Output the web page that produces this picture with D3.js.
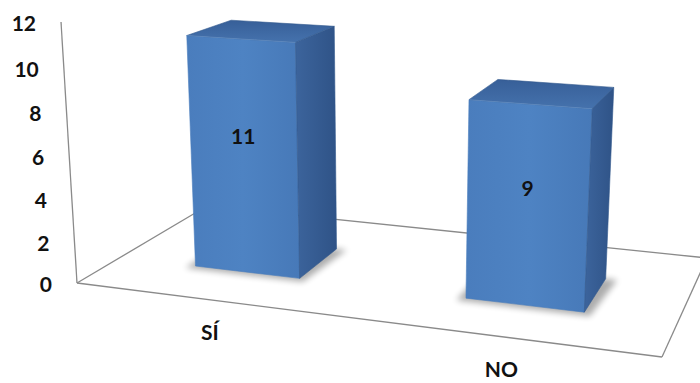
<!DOCTYPE html>
<html>
<head>
<meta charset="utf-8">
<script src="https://cdn.jsdelivr.net/npm/d3@7"></script>
<style>
  html, body { margin: 0; padding: 0; background: #ffffff; }
  svg { display: block; }
  text { font-family: Lato, "Open Sans", "Liberation Sans", sans-serif; font-weight: 700; fill: #111; }
</style>
</head>
<body>
<svg id="chart" width="700" height="383"></svg>
<script>
// ---- data ----
const categories = ["SÍ", "NO"];
const values = [11, 9];
const yTicks = [0, 2, 4, 6, 8, 10, 12];
const yMax = 12;

// ---- frame geometry (screen positions of the floor corners and the value-axis top) ----
const floorFL = [77, 283], floorFR = [662, 357], floorBR = [707, 258], floorBL = [207, 206];
const axisTop = [61, 22];
const verticalVanish = [389, 5377];   // vertical edges converge far below the chart

// Projective map from the unit square (u across, w into depth) to the floor quad
function squareToQuad(p0, p1, p2, p3) {
  const [x0, y0] = p0, [x1, y1] = p1, [x2, y2] = p2, [x3, y3] = p3;
  const dx1 = x1 - x2, dx2 = x3 - x2, dx3 = x0 - x1 + x2 - x3;
  const dy1 = y1 - y2, dy2 = y3 - y2, dy3 = y0 - y1 + y2 - y3;
  const den = dx1 * dy2 - dx2 * dy1;
  const g = (dx3 * dy2 - dx2 * dy3) / den;
  const h = (dx1 * dy3 - dx3 * dy1) / den;
  return {
    a: x1 - x0 + g * x1, b: x3 - x0 + h * x3, c: x0,
    d: y1 - y0 + g * y1, e: y3 - y0 + h * y3, f: y0,
    g, h
  };
}
const H = squareToQuad(floorFL, floorFR, floorBR, floorBL);
// height column: scaled so that a normalised height of 1 lands on the axis top
const k = (axisTop[1] - H.f) / (verticalVanish[1] - axisTop[1]);
const kx = k * verticalVanish[0], ky = k * verticalVanish[1], kz = k;

function project(u, v, w) {
  const X = H.a * u + H.b * w + H.c + v * kx;
  const Y = H.d * u + H.e * w + H.f + v * ky;
  const Z = H.g * u + H.h * w + 1 + v * kz;
  return [X / Z, Y / Z];
}

// ---- scales (world units) ----
const x = d3.scaleBand().domain(categories).range([0, 1]).paddingInner(0.6).paddingOuter(0.3);
const y = d3.scaleLinear().domain([0, yMax]).range([0, 1]);
const depthFront = 0.30, depthBack = 0.65;

const svg = d3.select("#chart");
const defs = svg.append("defs");

defs.append("filter").attr("id", "soft").attr("x", "-30%").attr("y", "-30%").attr("width", "160%").attr("height", "160%")
  .append("feGaussianBlur").attr("stdDeviation", 3.2);

function grad(id, x1, y1, x2, y2, stops) {
  const lg = defs.append("linearGradient").attr("id", id)
    .attr("x1", x1).attr("y1", y1).attr("x2", x2).attr("y2", y2);
  stops.forEach(([o, c]) => lg.append("stop").attr("offset", o).attr("stop-color", c));
}
grad("gFront", 0, 0, 1, 0, [[0, "#4a7dbd"], [0.5, "#4e83c3"], [1, "#4779b8"]]);
grad("gSide", 0, 0, 1, 0, [[0, "#3c649c"], [1, "#2f5387"]]);
grad("gTop", 0, 1, 0, 0, [[0, "#4572ad"], [1, "#375f98"]]);

const line = d3.line();
const floorLines = svg.append("g")
  .attr("fill", "none").attr("stroke", "#8a8a8a").attr("stroke-width", 1.3);

// floor outline
[[[0, 0], [1, 0]], [[1, 0], [1, 1]], [[1, 1], [0, 1]], [[0, 1], [0, 0]]].forEach(([s, t]) => {
  floorLines.append("path").attr("d", line([project(s[0], 0, s[1]), project(t[0], 0, t[1])]));
});
// value axis line at the front-left corner
floorLines.append("path").attr("d", line([project(0, 0, 0), project(0, 1, 0)]));

// tick labels
svg.append("g").selectAll("text").data(yTicks).join("text")
  .attr("x", d => project(0, y(d), 0)[0] - 25)
  .attr("y", d => project(0, y(d), 0)[1] + 2)
  .attr("dy", "0.35em")
  .attr("text-anchor", "end")
  .attr("font-size", 21)
  .text(d => d);

// category labels in front of the floor
svg.append("g").selectAll("text").data(categories).join("text")
  .attr("x", d => project(x(d) + x.bandwidth() / 2, 0, 0)[0] + 1)
  .attr("y", d => project(x(d) + x.bandwidth() / 2, 0, 0)[1] + 40)
  .attr("text-anchor", "middle")
  .attr("font-size", 21)
  .text(d => d);

// ---- bars ----
const polygon = pts => "M" + pts.map(p => p.join(",")).join("L") + "Z";
const signedArea = pts => d3.polygonArea(pts);

const bars = svg.append("g");
categories.forEach((cat, i) => {
  const u0 = x(cat), u1 = u0 + x.bandwidth();
  const w0 = depthFront, w1 = depthBack;
  const v1 = y(values[i]);
  const g = bars.append("g");

  // soft shadow on the floor
  g.append("path")
    .attr("d", polygon([project(u0 - 0.012, 0, w0 - 0.03), project(u1 + 0.012, 0, w0 - 0.03),
                        project(u1 + 0.02, 0, w1), project(u0 - 0.012, 0, w1)]))
    .attr("fill", "#000").attr("opacity", 0.32).attr("filter", "url(#soft)");

  // faces wound consistently as seen from outside
  const faces = [
    { pts: [[u0, 0, w0], [u1, 0, w0], [u1, v1, w0], [u0, v1, w0]], fill: "url(#gFront)" }, // front
    { pts: [[u1, 0, w1], [u0, 0, w1], [u0, v1, w1], [u1, v1, w1]], fill: "#3a6299" },       // back
    { pts: [[u1, 0, w0], [u1, 0, w1], [u1, v1, w1], [u1, v1, w0]], fill: "url(#gSide)" },  // right
    { pts: [[u0, 0, w1], [u0, 0, w0], [u0, v1, w0], [u0, v1, w1]], fill: "#3a6299" },       // left
    { pts: [[u0, v1, w0], [u1, v1, w0], [u1, v1, w1], [u0, v1, w1]], fill: "url(#gTop)" },  // top
  ].map(f => ({ ...f, scr: f.pts.map(p => project(...p)) }));
  const ref = Math.sign(signedArea(faces[0].scr));
  faces.filter(f => Math.sign(signedArea(f.scr)) === ref).forEach(f => {
    g.append("path").attr("d", polygon(f.scr)).attr("fill", f.fill)
      .attr("stroke", f.fill === "url(#gFront)" ? "#4a7dbd" : "#33598d").attr("stroke-width", 0.6)
      .attr("stroke-linejoin", "round");
  });
  // light bevel along the top front edge
  g.append("path").attr("d", line([project(u0, v1, w0), project(u1, v1, w0)]))
    .attr("stroke", "#6f9bd0").attr("stroke-width", 1).attr("opacity", 0.6);

  // value label on the front face
  const lp = project((u0 + u1) / 2, y(values[i] * 0.59), w0);
  g.append("text").attr("x", lp[0]).attr("y", lp[1]).attr("dy", "0.35em")
    .attr("text-anchor", "middle").attr("font-size", 21).text(values[i]);
});
</script>
</body>
</html>
